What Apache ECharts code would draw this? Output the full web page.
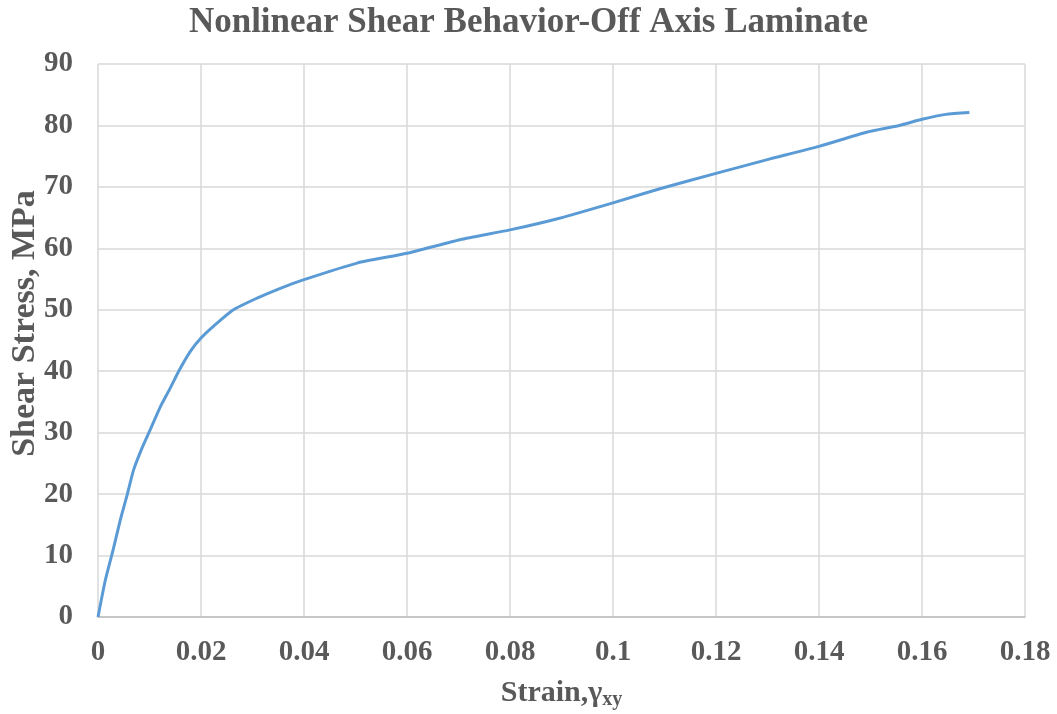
<!DOCTYPE html>
<html>
<head>
<meta charset="utf-8">
<title>Nonlinear Shear Behavior-Off Axis Laminate</title>
<script src="https://cdn.jsdelivr.net/npm/echarts@6/dist/echarts.min.js"></script>
<style>
  html, body { margin: 0; padding: 0; background: #fff; }
  #chart { width: 1057px; height: 714px; }
</style>
</head>
<body>
<div id="chart"></div>
<script>
// Shear strain (gamma_xy) and shear stress (MPa) of the off-axis laminate test
const strain = [0, 0.0014, 0.0029, 0.0043, 0.0057, 0.0069, 0.0085, 0.0101, 0.0121, 0.014,
  0.0158, 0.0179, 0.02, 0.0224, 0.0263, 0.0309, 0.0354, 0.04, 0.0503, 0.06,
  0.0703, 0.08, 0.0896, 0.1, 0.1091, 0.12, 0.1298, 0.14, 0.1492, 0.1556,
  0.16, 0.1646, 0.1692];
const stress = [0, 5.9, 10.8, 15.7, 20.0, 23.9, 27.4, 30.4, 34.2, 37.2,
  40.2, 43.2, 45.4, 47.3, 50.0, 51.9, 53.5, 54.9, 57.6, 59.2,
  61.4, 63.0, 64.9, 67.4, 69.7, 72.2, 74.4, 76.6, 78.9, 80.0,
  81.0, 81.8, 82.1];

const titleText = 'Nonlinear Shear Behavior-Off Axis Laminate';
const xTitle = 'Strain,γ';
const xTitleSub = 'xy';
const yTitle = 'Shear Stress, MPa';

const points = strain.map((s, i) => [s, stress[i]]);

const serif = '"Liberation Serif", "Times New Roman", serif';
const textColor = '#595959';

const chart = echarts.init(document.getElementById('chart'), null, { renderer: 'canvas' });
chart.setOption({
  backgroundColor: '#ffffff',
  animation: false,
  title: {
    text: titleText,
    left: 'center',
    top: 0,
    textStyle: { fontFamily: serif, fontWeight: 'bold', fontSize: 35, color: textColor }
  },
  grid: {
    left: 98, right: 32, top: 64, bottom: 97,
    containLabel: false,
    outerBoundsMode: 'none'
  },
  xAxis: {
    type: 'value',
    min: 0,
    max: 0.18,
    interval: 0.02,
    axisLine: { show: true, lineStyle: { color: '#bfbfbf', width: 1.5 } },
    axisTick: { show: false },
    splitLine: { show: true, lineStyle: { color: '#d9d9d9', width: 1.5 } },
    axisLabel: {
      margin: 21,
      fontFamily: serif, fontWeight: 'bold', fontSize: 29, color: textColor,
      formatter: v => String(parseFloat(v.toFixed(2)))
    },
    name: '{a|' + xTitle + '}{sub|' + xTitleSub + '}',
    nameLocation: 'middle',
    nameGap: 59,
    nameMoveOverlap: false,
    nameTextStyle: {
      rich: {
        a: { fontFamily: serif, fontWeight: 'bold', fontSize: 30, color: textColor },
        sub: { fontFamily: serif, fontWeight: 'bold', fontSize: 20, color: textColor, padding: [14, 0, 0, 0] }
      }
    }
  },
  yAxis: {
    type: 'value',
    min: 0,
    max: 90,
    interval: 10,
    axisLine: { show: false },
    axisTick: { show: false },
    splitLine: { show: true, lineStyle: { color: '#d9d9d9', width: 1.5 } },
    axisLabel: {
      margin: 25,
      fontFamily: serif, fontWeight: 'bold', fontSize: 29, color: textColor
    },
    name: yTitle,
    nameLocation: 'middle',
    nameGap: 56,
    nameRotate: 90,
    nameMoveOverlap: false,
    nameTextStyle: {
      fontFamily: serif, fontWeight: 'bold', fontSize: 34, color: textColor,
      padding: [0, 0, 0, 34]
    }
  },
  series: [{
    type: 'line',
    data: points,
    smooth: 0.2,
    showSymbol: false,
    lineStyle: { color: '#5b9bd5', width: 3, join: 'round' },
    itemStyle: { color: '#5b9bd5' }
  }]
});
</script>
</body>
</html>
